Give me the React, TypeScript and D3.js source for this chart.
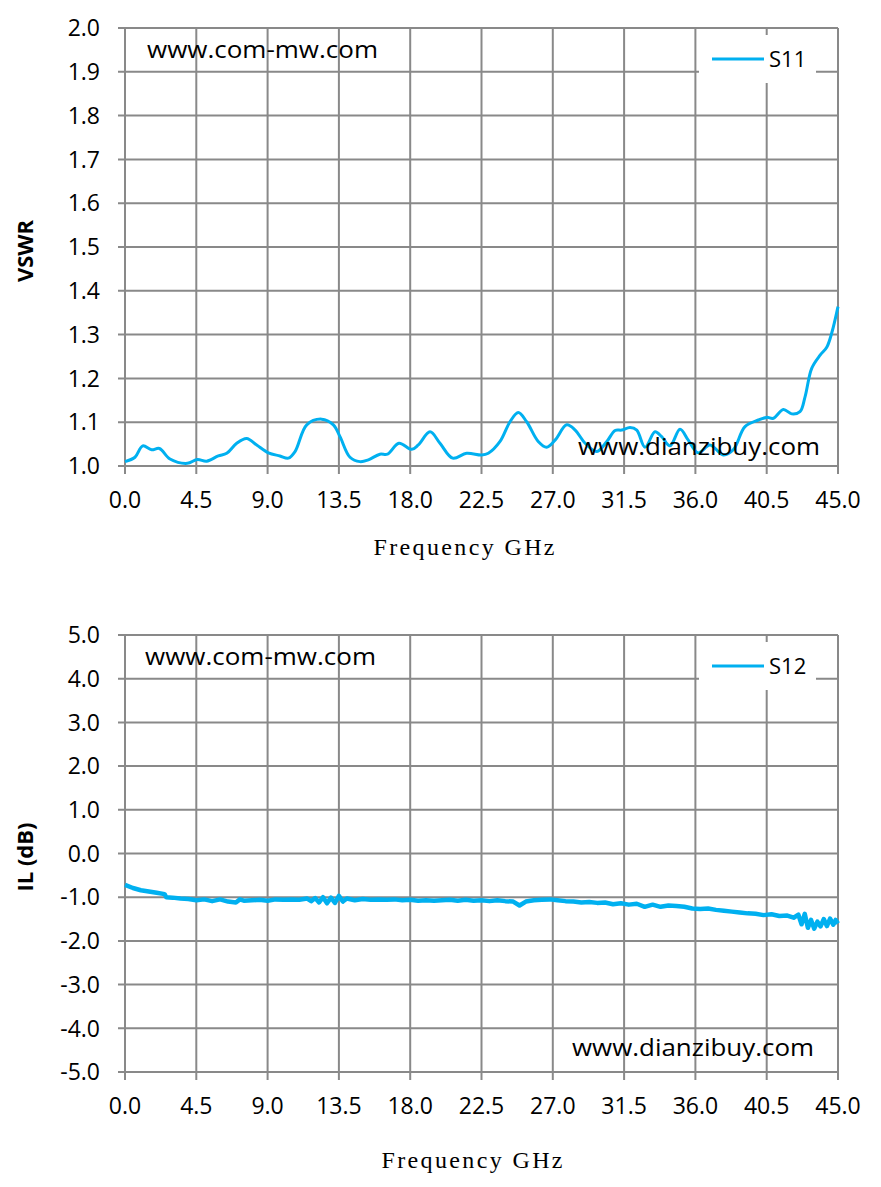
import * as d3 from 'd3';

// S11 VSWR: [GHz, VSWR]
const s11Points: [number, number][] = [
  [0, 1.01], [0.63, 1.02], [1.12, 1.046], [1.68, 1.037], [2.17, 1.04], [2.84, 1.016],
  [3.93, 1.006], [4.57, 1.015], [5.15, 1.011], [5.89, 1.023], [6.42, 1.029], [7.05, 1.052],
  [7.68, 1.063], [8.31, 1.048], [9.05, 1.03], [9.78, 1.023], [10.31, 1.018], [10.73, 1.033],
  [11.47, 1.094], [12.41, 1.107], [13.15, 1.094], [13.57, 1.067], [14.2, 1.02], [14.83, 1.01],
  [15.36, 1.014], [16.09, 1.027], [16.56, 1.027], [17.29, 1.052], [18.1, 1.038], [18.51, 1.048],
  [19.25, 1.078], [19.88, 1.052], [20.68, 1.018], [21.56, 1.029], [22.51, 1.025], [22.93, 1.029],
  [23.67, 1.056], [24.3, 1.101], [24.82, 1.122], [25.35, 1.101], [26.08, 1.056], [26.61, 1.043],
  [27.14, 1.059], [27.88, 1.094], [28.41, 1.082], [29.04, 1.052], [29.78, 1.033], [30.41, 1.056],
  [30.93, 1.081], [31.35, 1.082], [31.87, 1.088], [32.3, 1.082], [32.82, 1.043], [33.45, 1.078],
  [33.87, 1.067], [34.4, 1.046], [35.03, 1.084], [35.55, 1.059], [36.18, 1.03], [36.92, 1.048],
  [37.76, 1.025], [38.39, 1.037], [39.13, 1.09], [39.97, 1.105], [40.5, 1.111], [40.92, 1.109],
  [41.55, 1.129], [42.08, 1.119], [42.6, 1.124], [42.92, 1.158], [43.34, 1.223], [43.87, 1.253],
  [44.29, 1.271], [44.6, 1.303], [45, 1.364],
];

// S12 insertion loss (noisy trace): [GHz, dB]
const s12Points: [number, number][] = [
  [0, -0.72], [0.5, -0.79], [1.0, -0.84], [1.5, -0.87], [2.0, -0.9], [2.5, -0.93], [2.6, -1.0],
  [3.0, -1.01], [3.5, -1.03], [4.0, -1.04], [4.5, -1.07], [5.0, -1.05], [5.5, -1.09], [6.0, -1.05],
  [6.5, -1.1], [7.0, -1.12], [7.25, -1.05], [7.5, -1.08], [8.0, -1.07], [8.5, -1.06], [9.0, -1.08],
  [9.5, -1.05], [10.0, -1.06], [10.5, -1.05], [11.0, -1.06], [11.5, -1.03], [11.75, -1.09],
  [12.0, -1.02], [12.25, -1.12], [12.5, -1.0], [12.75, -1.14], [13.0, -1.01], [13.25, -1.13],
  [13.5, -0.97], [13.75, -1.1], [14.0, -1.03], [14.5, -1.07], [15.0, -1.04], [15.5, -1.06],
  [16.0, -1.05], [16.5, -1.06], [17.0, -1.05], [17.5, -1.07], [18.0, -1.06], [18.5, -1.08],
  [19.0, -1.07], [19.5, -1.08], [20.0, -1.07], [20.5, -1.06], [21.0, -1.08], [21.5, -1.06],
  [22.0, -1.08], [22.5, -1.07], [23.0, -1.09], [23.5, -1.07], [24.0, -1.09], [24.5, -1.1],
  [24.9, -1.19], [25.3, -1.1], [25.8, -1.07], [26.3, -1.06], [26.8, -1.05], [27.3, -1.07],
  [27.8, -1.09], [28.3, -1.1], [28.8, -1.12], [29.3, -1.11], [29.8, -1.13], [30.3, -1.12],
  [30.8, -1.16], [31.3, -1.14], [31.8, -1.17], [32.3, -1.15], [32.8, -1.22], [33.3, -1.17],
  [33.8, -1.22], [34.3, -1.19], [34.8, -1.2], [35.3, -1.22], [35.8, -1.26], [36.3, -1.27],
  [36.8, -1.26], [37.3, -1.29], [37.8, -1.31], [38.3, -1.33], [38.8, -1.35], [39.3, -1.37],
  [39.8, -1.38], [40.3, -1.41], [40.8, -1.39], [41.3, -1.43], [41.8, -1.42], [42.2, -1.47],
  [42.5, -1.4], [42.7, -1.62], [42.9, -1.38], [43.1, -1.7], [43.3, -1.52], [43.5, -1.72],
  [43.7, -1.56], [43.9, -1.67], [44.1, -1.5], [44.3, -1.66], [44.5, -1.49], [44.7, -1.63],
  [44.85, -1.52], [45, -1.6],
];

const xTicks = [0, 4.5, 9, 13.5, 18, 22.5, 27, 31.5, 36, 40.5, 45];
const vswrTicks = [1.0, 1.1, 1.2, 1.3, 1.4, 1.5, 1.6, 1.7, 1.8, 1.9, 2.0];
const ilTicks = [-5, -4, -3, -2, -1, 0, 1, 2, 3, 4, 5];

const GRID = '#898989';
const LINE = '#00B0F0';
const TICK_FONT = "'Open Sans', 'Noto Sans', sans-serif";
const SERIF_FONT = "'Liberation Serif', 'DejaVu Serif', serif";

type PanelProps = {
  top: number;
  bottom: number;
  yTicks: number[];
  yLabel: string;
  yLabelY: number;
  points: [number, number][];
  smooth: boolean;
  seriesName: string;
  mark1: { x: number; y: number };
  mark2: { x: number; y: number };
  titleX: number;
  titleY: number;
};

function Panel({ top, bottom, yTicks, yLabel, yLabelY, points, smooth, seriesName, mark1, mark2, titleX, titleY }: PanelProps) {
  const left = 125;
  const right = 838;
  const x = d3.scaleLinear().domain([0, 45]).range([left, right]);
  const y = d3.scaleLinear().domain([yTicks[0], yTicks[yTicks.length - 1]]).range([bottom, top]);
  const line = d3.line<[number, number]>()
    .x((d) => x(d[0]))
    .y((d) => y(d[1]))
    .curve(smooth ? d3.curveCatmullRom.alpha(0.5) : d3.curveLinear);

  const legendTop = top + 7;
  return (
    <g>
      {yTicks.map((t) => (
        <g key={'y' + t}>
          <line x1={left - 7} x2={right} y1={y(t)} y2={y(t)} stroke={GRID} strokeWidth={2} />
          <text x={100} y={y(t)} dy="0.36em" textAnchor="end" fontFamily={TICK_FONT} fontSize={23} fill="#000">
            {t.toFixed(1)}
          </text>
        </g>
      ))}
      {xTicks.map((t) => (
        <g key={'x' + t}>
          <line x1={x(t)} x2={x(t)} y1={top} y2={bottom + 8} stroke={GRID} strokeWidth={2} />
          <text x={x(t)} y={bottom + 42} textAnchor="middle" fontFamily={TICK_FONT} fontSize={23} fill="#000">
            {t.toFixed(1)}
          </text>
        </g>
      ))}
      <path d={line(points) ?? ''} fill="none" stroke={LINE} strokeWidth={smooth ? 3 : 4.5} strokeLinejoin="round" />
      <text x={mark1.x} y={mark1.y} fontFamily={TICK_FONT} fontSize={24} textLength={231} lengthAdjust="spacingAndGlyphs" fill="#000">
        www.com-mw.com
      </text>
      <text x={mark2.x} y={mark2.y} fontFamily={TICK_FONT} fontSize={24} textLength={242} lengthAdjust="spacingAndGlyphs" fill="#000">
        www.dianzibuy.com
      </text>
      <rect x={699} y={legendTop} width={117} height={48} fill="#fff" />
      <line x1={712} x2={764} y1={legendTop + 24} y2={legendTop + 24} stroke={LINE} strokeWidth={3} />
      <text x={769} y={legendTop + 24} dy="0.36em" fontFamily={TICK_FONT} fontSize={22} fill="#000">
        {seriesName}
      </text>
      <text
        transform={`translate(33,${yLabelY}) rotate(-90)`}
        textAnchor="middle"
        fontFamily={TICK_FONT}
        fontWeight="bold"
        fontSize={22}
        fill="#000"
      >
        {yLabel}
      </text>
      <text x={titleX} y={titleY} textAnchor="middle" fontFamily={SERIF_FONT} fontSize={24} textLength={181} lengthAdjust="spacing" fill="#000">
        Frequency GHz
      </text>
    </g>
  );
}

export default function App() {
  return (
    <svg
      width={881}
      height={1187}
      viewBox="0 0 881 1187"
      style={{ position: 'absolute', left: 0, top: 0, background: '#fff' }}
    >
      <rect width={881} height={1187} fill="#fff" />
      <Panel
        top={28}
        bottom={466}
        yTicks={vswrTicks}
        yLabel="VSWR"
        yLabelY={251}
        points={s11Points}
        smooth
        seriesName="S11"
        mark1={{ x: 147, y: 58 }}
        mark2={{ x: 578, y: 455 }}
        titleX={464}
        titleY={555}
      />
      <Panel
        top={635}
        bottom={1072}
        yTicks={ilTicks}
        yLabel="IL (dB)"
        yLabelY={857}
        points={s12Points}
        smooth={false}
        seriesName="S12"
        mark1={{ x: 145, y: 665 }}
        mark2={{ x: 572, y: 1056 }}
        titleX={472}
        titleY={1168}
      />
    </svg>
  );
}
